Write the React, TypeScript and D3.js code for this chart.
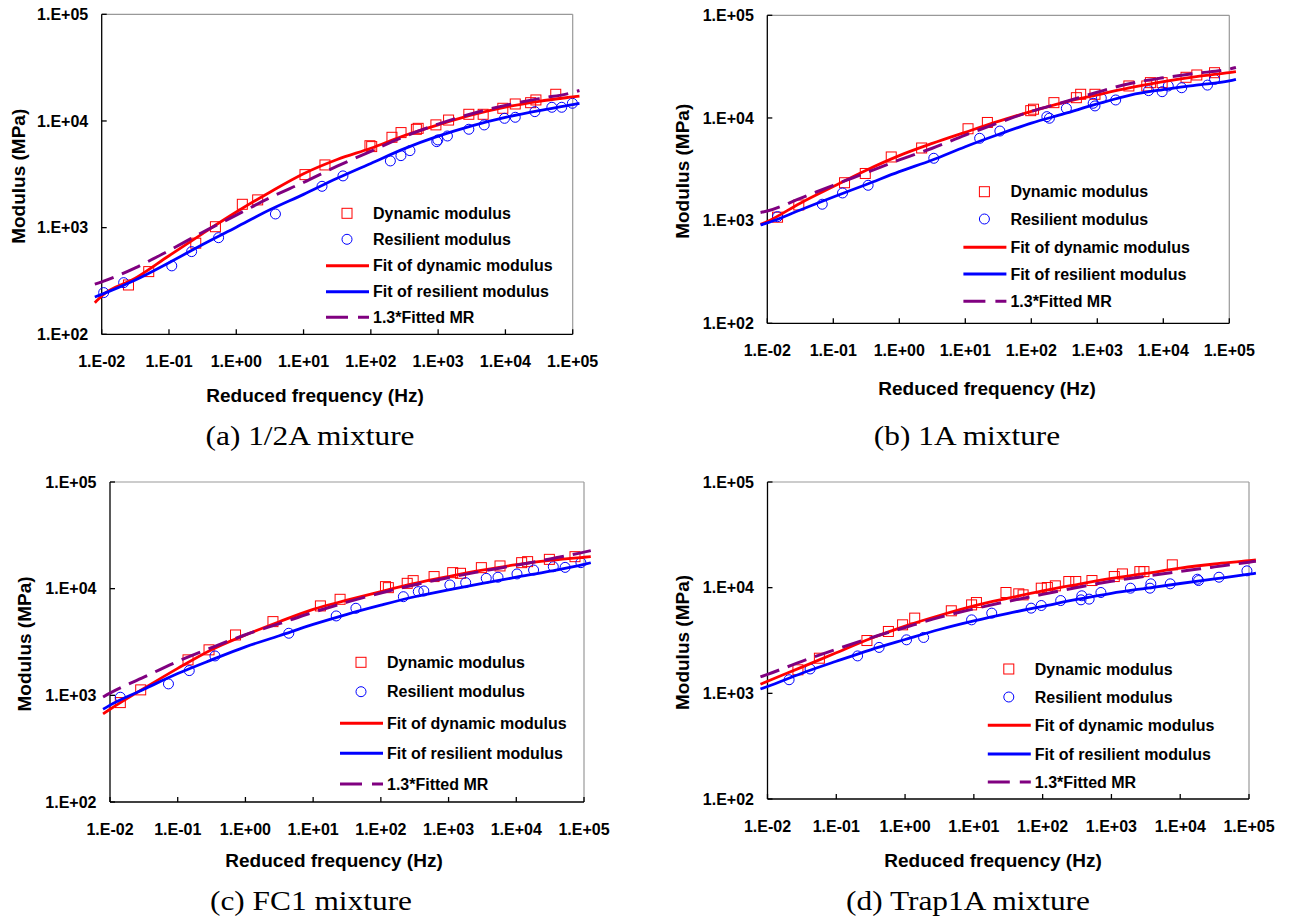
import React from 'react'
import * as d3 from 'd3'

// reduced frequency (Hz) where the fitted curves were read
const fitFreq = [0.0079, 0.01, 0.0316, 0.1, 0.316, 1, 3.16, 10, 31.6, 100, 316, 1000, 3162, 10000, 31623, 100000, 126000]

const xTickValues = [1e-2, 1e-1, 1, 1e1, 1e2, 1e3, 1e4, 1e5]
const xTickLabels = ['1.E-02', '1.E-01', '1.E+00', '1.E+01', '1.E+02', '1.E+03', '1.E+04', '1.E+05']
const yTickValues = [1e2, 1e3, 1e4, 1e5]
const yTickLabels = ['1.E+02', '1.E+03', '1.E+04', '1.E+05']

const legendLabels = ['Dynamic modulus', 'Resilient modulus', 'Fit of dynamic modulus', 'Fit of resilient modulus', '1.3*Fitted MR']

// (a) 1/2A mixture
const dynFitA = [198, 229, 335, 545, 880, 1400, 2150, 3200, 4350, 5550, 7300, 9200, 11400, 13500, 15300, 16800, 17100]
const resFitA = [224, 237, 323, 469, 695, 1010, 1470, 2050, 2900, 4000, 5500, 7200, 9000, 10800, 12500, 14200, 14600]
const mrFitA = [295, 310, 420, 610, 905, 1310, 1910, 2660, 3770, 5200, 7150, 9350, 11700, 14000, 16200, 18500, 19300]
const dynPtsA = [[0.025, 290], [0.05, 387], [0.25, 715], [0.49, 1020], [1.23, 1655], [2.08, 1820], [10.5, 3140], [20.8, 3870], [97, 5860], [103, 5750], [206, 7030], [281, 7780], [475, 8350], [505, 8530], [927, 9190], [1430, 10200], [2860, 11550], [4670, 11550], [9150, 13150], [14000, 14430], [23700, 14840], [28400, 15740], [56000, 17790]]
const resPtsA = [[0.0107, 246], [0.0212, 305], [0.11, 438], [0.217, 596], [0.546, 805], [3.82, 1343], [18.8, 2440], [38.5, 3055], [195, 4220], [280, 4730], [381, 5270], [953, 6400], [990, 6640], [1374, 7230], [2860, 8360], [4840, 9180], [9700, 10590], [14000, 10830], [27400, 12230], [49000, 13440], [68600, 13440], [98900, 14650]]

// (b) 1A mixture
const dynFitB = [920, 980, 1480, 2150, 3100, 4300, 5650, 7250, 9250, 11600, 14200, 16800, 19700, 22600, 25300, 27700, 28250]
const resFitB = [908, 950, 1270, 1700, 2250, 3000, 3900, 5250, 6900, 8900, 11000, 13700, 16700, 18900, 20900, 23000, 23800]
const mrFitB = [1200, 1240, 1650, 2210, 2930, 3900, 5070, 6800, 8970, 11600, 14300, 17800, 21700, 24600, 27200, 29900, 31000]
const dynPtsB = [[0.0143, 1080], [0.03, 1420], [0.148, 2340], [0.305, 2880], [0.755, 4170], [2.18, 5100], [11, 7850], [21.6, 9040], [98, 11780], [108, 12170], [220, 14100], [482, 15760], [560, 17010], [922, 17010], [3010, 20500], [5620, 20500], [6380, 22080], [9600, 22080], [22100, 24900], [32200, 26220], [59800, 27600]]
const resPtsB = [[0.0143, 1094], [0.068, 1445], [0.138, 1860], [0.337, 2210], [3.33, 4050], [16.5, 6340], [33.4, 7460], [172, 10300], [188, 9940], [340, 12400], [866, 13900], [922, 13100], [1150, 15560], [1900, 14970], [5980, 18470], [9600, 18030], [11900, 20500], [19000, 19700], [46700, 20900], [59800, 23800]]

// (c) FC1 mixture
const dynFitC = [670, 740, 1160, 1790, 2680, 3680, 4900, 6400, 7800, 9400, 11200, 13000, 14900, 16800, 18400, 19700, 19950]
const resFitC = [741, 810, 1140, 1600, 2150, 2850, 3620, 4620, 5750, 7000, 8400, 9750, 11200, 12800, 14600, 16900, 17500]
const mrFitC = [965, 1050, 1480, 2080, 2800, 3700, 4700, 6000, 7480, 9100, 10900, 12700, 14600, 16600, 19000, 22000, 22750]
const dynPtsC = [[0.0142, 855], [0.0284, 1125], [0.142, 2150], [0.29, 2670], [0.714, 3680], [2.55, 4910], [12.8, 6890], [25, 7950], [117, 10450], [129, 10220], [245, 11220], [300, 11890], [611, 12980], [1150, 14130], [1500, 13930], [3050, 15740], [5750, 16330], [12000, 17530], [14700, 17920], [30800, 18830], [73600, 19950]]
const resPtsC = [[0.0142, 960], [0.073, 1280], [0.148, 1706], [0.355, 2340], [4.37, 3820], [21.9, 5550], [42.8, 6550], [215, 8410], [357, 9380], [431, 9510], [1045, 10840], [1790, 11380], [3600, 12500], [5370, 12800], [10240, 13740], [18000, 14960], [35200, 16070], [52600, 15840], [90000, 17530]]

// (d) Trap1A mixture
const dynFitD = [1220, 1300, 1770, 2420, 3300, 4330, 5450, 6720, 7950, 9300, 10700, 12250, 13650, 15300, 16750, 18000, 18320]
const resFitD = [1099, 1160, 1550, 2010, 2580, 3230, 4020, 4850, 5720, 6650, 7730, 8850, 9870, 10950, 12100, 13400, 13700]
const mrFitD = [1430, 1510, 2010, 2610, 3350, 4200, 5230, 6300, 7430, 8640, 10050, 11500, 12830, 14230, 15730, 17420, 17800]
const dynPtsD = [[0.0277, 1670], [0.0568, 2150], [0.279, 3160], [0.572, 3850], [0.92, 4450], [1.38, 5150], [4.7, 6040], [9.27, 6870], [10.9, 7230], [29.3, 9000], [45, 8740], [52, 8550], [95.5, 9890], [117, 10030], [153, 10400], [240, 11430], [303, 11430], [521, 11680], [1100, 12740], [1445, 13490], [2590, 14190], [2970, 14190], [7670, 16440]]
const resPtsD = [[0.0206, 1345], [0.0416, 1700], [0.204, 2260], [0.419, 2720], [1.05, 3210], [1.86, 3380], [9.27, 4960], [18.2, 5740], [68, 6400], [95.5, 6780], [183, 7550], [361, 7670], [371, 8380], [474, 7790], [703, 9000], [1890, 9890], [3630, 9890], [3740, 10870], [7160, 10870], [17800, 12020], [18500, 11680], [36600, 12560], [93300, 14430]]

const RED = '#FF0000'
const BLUE = '#0000FF'
const PURPLE = '#800080'
const SANS = '"Liberation Sans", Arial, sans-serif'
const SERIF = '"Liberation Serif", "Times New Roman", serif'

const panels = [
  { caption: '(a) 1/2A mixture', dynFit: dynFitA, resFit: resFitA, mrFit: mrFitA, dynPts: dynPtsA, resPts: resPtsA,
    box: [101.7, 572.7, 14.3, 334.3], yTitleX: 18, xTitle: [315, 395], cap: [310, 445], legX: 326, legRows: [213.3, 239.3, 265.7, 291.7, 317.3] },
  { caption: '(b) 1A mixture', dynFit: dynFitB, resFit: resFitB, mrFit: mrFitB, dynPts: dynPtsB, resPts: resPtsB,
    box: [767.3, 1229.3, 15.3, 323.3], yTitleX: 682, xTitle: [987, 388], cap: [967, 445], legX: 963.4, legRows: [191.7, 219, 247.3, 274, 301.3] },
  { caption: '(c) FC1 mixture', dynFit: dynFitC, resFit: resFitC, mrFit: mrFitC, dynPts: dynPtsC, resPts: resPtsC,
    box: [110, 584, 482, 802], yTitleX: 24.7, xTitle: [334, 860], cap: [311, 910], legX: 340, legRows: [662.3, 691.7, 723.3, 753.3, 784] },
  { caption: '(d) Trap1A mixture', dynFit: dynFitD, resFit: resFitD, mrFit: mrFitD, dynPts: dynPtsD, resPts: resPtsD,
    box: [767.5, 1249, 482, 799], yTitleX: 682, xTitle: [993, 860], cap: [968, 910], legX: 987.8, legRows: [669, 697, 725.3, 754, 782] },
]

function Panel({ p }) {
  const [left, right, top, bottom] = p.box
  const x = d3.scaleLog().domain([1e-2, 1e5]).range([left, right])
  const y = d3.scaleLog().domain([1e2, 1e5]).range([bottom, top])

  const fitLine = d3.line<number>()
    .x((d, i) => x(fitFreq[i]))
    .y(d => y(d))
    .curve(d3.curveMonotoneX)

  const lx = p.legX
  const rows = p.legRows

  return (
    <g>
      {/* plot frame: grey top/right, black axes */}
      <line x1={left} y1={top} x2={right} y2={top} stroke="#999" strokeWidth={1.2} />
      <line x1={right} y1={top} x2={right} y2={bottom} stroke="#999" strokeWidth={1.2} />
      <line x1={left} y1={top} x2={left} y2={bottom} stroke="#000" strokeWidth={1.3} />
      <line x1={left} y1={bottom} x2={right} y2={bottom} stroke="#000" strokeWidth={1.3} />

      {/* ticks point inside */}
      {yTickValues.map((v, i) => (
        <g key={'y' + i}>
          <line x1={left} x2={left + 5} y1={y(v)} y2={y(v)} stroke="#000" strokeWidth={1.3} />
          <text x={left - 13.5} y={y(v)} dy="0.35em" textAnchor="end" fontFamily={SANS} fontWeight="bold" fontSize={16}>{yTickLabels[i]}</text>
        </g>
      ))}
      {xTickValues.map((v, i) => (
        <g key={'x' + i}>
          <line x1={x(v)} x2={x(v)} y1={bottom} y2={bottom - 5} stroke="#000" strokeWidth={1.3} />
          <text x={x(v)} y={bottom + 27} dy="0.35em" textAnchor="middle" fontFamily={SANS} fontWeight="bold" fontSize={16}>{xTickLabels[i]}</text>
        </g>
      ))}

      {/* data markers */}
      {p.dynPts.map((d, i) => (
        <rect key={'s' + i} x={x(d[0]) - 5} y={y(d[1]) - 5} width={10} height={10} fill="none" stroke={RED} strokeWidth={1} />
      ))}
      {p.resPts.map((d, i) => (
        <circle key={'c' + i} cx={x(d[0])} cy={y(d[1])} r={5} fill="none" stroke={BLUE} strokeWidth={1} />
      ))}

      {/* fitted curves */}
      <path d={fitLine(p.dynFit)} fill="none" stroke={RED} strokeWidth={2.8} />
      <path d={fitLine(p.resFit)} fill="none" stroke={BLUE} strokeWidth={2.8} />
      <path d={fitLine(p.mrFit)} fill="none" stroke={PURPLE} strokeWidth={3} strokeDasharray="20,9" />

      {/* axis titles */}
      <text transform={`translate(${p.yTitleX},${(top + bottom) / 2 + 2}) rotate(-90)`} dy="0.35em" textAnchor="middle"
        fontFamily={SANS} fontWeight="bold" fontSize={19}>Modulus (MPa)</text>
      <text x={p.xTitle[0]} y={p.xTitle[1]} dy="0.35em" textAnchor="middle" fontFamily={SANS} fontWeight="bold" fontSize={19}>Reduced frequency (Hz)</text>

      {/* legend */}
      <rect x={lx + 21 - 5} y={rows[0] - 5} width={10} height={10} fill="none" stroke={RED} strokeWidth={1} />
      <circle cx={lx + 21} cy={rows[1]} r={5} fill="none" stroke={BLUE} strokeWidth={1} />
      <line x1={lx} x2={lx + 43} y1={rows[2]} y2={rows[2]} stroke={RED} strokeWidth={3} />
      <line x1={lx} x2={lx + 43} y1={rows[3]} y2={rows[3]} stroke={BLUE} strokeWidth={3} />
      <line x1={lx} x2={lx + 43} y1={rows[4]} y2={rows[4]} stroke={PURPLE} strokeWidth={3} strokeDasharray="22,10" />
      {legendLabels.map((t, i) => (
        <text key={'l' + i} x={lx + 47} y={rows[i]} dy="0.35em" fontFamily={SANS} fontWeight="bold" fontSize={16}>{t}</text>
      ))}

      {/* caption */}
      <text transform={`translate(${p.cap[0]},${p.cap[1]}) scale(1.12,1)`} textAnchor="middle" fontFamily={SERIF} fontSize={28}>{p.caption}</text>
    </g>
  )
}

export default function App() {
  return (
    <svg width={1296} height={921} style={{ position: 'absolute', left: 0, top: 0, background: '#fff' }}>
      <rect width={1296} height={921} fill="#fff" />
      {panels.map((p, i) => <Panel key={i} p={p} />)}
    </svg>
  )
}
